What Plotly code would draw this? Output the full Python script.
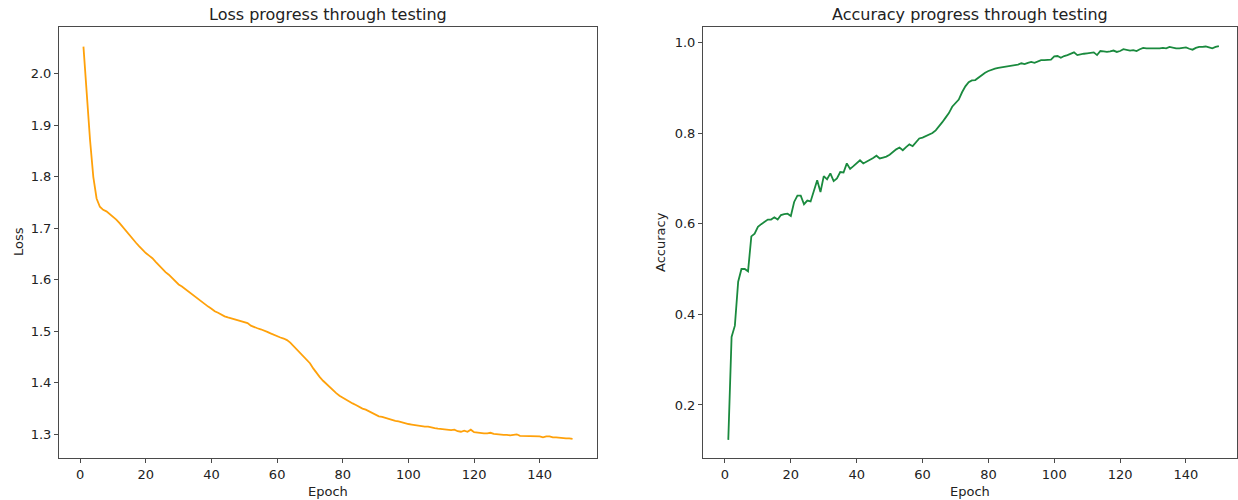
import plotly.graph_objects as go

epochs = list(range(1, 151))

loss = [
    2.053, 1.955, 1.872, 1.800, 1.758, 1.742, 1.736, 1.733, 1.728, 1.723,
    1.717, 1.710, 1.702, 1.694, 1.687, 1.679, 1.672, 1.665, 1.658, 1.652,
    1.647, 1.642, 1.635, 1.628, 1.621, 1.615, 1.610, 1.603, 1.597, 1.591,
    1.587, 1.582, 1.577, 1.572, 1.567, 1.562, 1.557, 1.552, 1.548, 1.544,
    1.539, 1.536, 1.532, 1.529, 1.527, 1.525, 1.523, 1.521, 1.520, 1.518,
    1.516, 1.511, 1.508, 1.506, 1.504, 1.502, 1.499, 1.496, 1.493, 1.490,
    1.488, 1.486, 1.483, 1.478, 1.471, 1.465, 1.458, 1.452, 1.445, 1.438,
    1.428, 1.419, 1.411, 1.404, 1.398, 1.391, 1.386, 1.380, 1.375, 1.371,
    1.367, 1.364, 1.360, 1.357, 1.353, 1.350, 1.348, 1.345, 1.341, 1.338,
    1.335, 1.334, 1.332, 1.329, 1.328, 1.326, 1.325, 1.323, 1.321, 1.320,
    1.319, 1.318, 1.316, 1.316, 1.315, 1.315, 1.313, 1.312, 1.311, 1.310,
    1.309, 1.309, 1.308, 1.309, 1.306, 1.305, 1.307, 1.305, 1.309, 1.304,
    1.303, 1.303, 1.302, 1.302, 1.303, 1.301, 1.300, 1.300, 1.299, 1.299,
    1.298, 1.299, 1.300, 1.297, 1.297, 1.297, 1.297, 1.297, 1.296, 1.296,
    1.294, 1.296, 1.296, 1.294, 1.294, 1.293, 1.293, 1.292, 1.292, 1.291,
]

accuracy = [
    0.123, 0.350, 0.375, 0.472, 0.500, 0.500, 0.495, 0.572, 0.578, 0.593,
    0.599, 0.604, 0.609, 0.609, 0.614, 0.609, 0.619, 0.621, 0.622, 0.617,
    0.648, 0.662, 0.662, 0.643, 0.651, 0.649, 0.675, 0.696, 0.670, 0.705,
    0.698, 0.711, 0.694, 0.700, 0.714, 0.713, 0.733, 0.721, 0.727, 0.733,
    0.740, 0.733, 0.737, 0.740, 0.745, 0.750, 0.744, 0.746, 0.748, 0.752,
    0.759, 0.764, 0.768, 0.762, 0.769, 0.775, 0.771, 0.780, 0.788, 0.790,
    0.793, 0.797, 0.800, 0.806, 0.814, 0.824, 0.834, 0.844, 0.858, 0.866,
    0.874, 0.890, 0.903, 0.912, 0.916, 0.917, 0.923, 0.928, 0.933, 0.937,
    0.940, 0.942, 0.944, 0.945, 0.947, 0.948, 0.949, 0.950, 0.951, 0.954,
    0.952, 0.955, 0.957, 0.955, 0.958, 0.961, 0.961, 0.961, 0.962, 0.969,
    0.970, 0.966, 0.970, 0.972, 0.975, 0.978, 0.972, 0.974, 0.975, 0.976,
    0.977, 0.978, 0.972, 0.981, 0.980, 0.979, 0.980, 0.982, 0.979, 0.981,
    0.985, 0.984, 0.982, 0.983, 0.981, 0.985, 0.988, 0.987, 0.987, 0.987,
    0.986, 0.987, 0.988, 0.987, 0.990, 0.988, 0.987, 0.987, 0.988, 0.989,
    0.986, 0.984, 0.988, 0.990, 0.990, 0.991, 0.989, 0.987, 0.990, 0.992,
]

x_ticks = [0, 20, 40, 60, 80, 100, 120, 140]
loss_ticks = [1.3, 1.4, 1.5, 1.6, 1.7, 1.8, 1.9, 2.0]
acc_ticks = [0.2, 0.4, 0.6, 0.8, 1.0]

titles = ["Loss progress through testing", "Accuracy progress through testing"]
x_label = "Epoch"
y_labels = ["Loss", "Accuracy"]

W, H = 1238, 500
FONT = "DejaVu Sans"
TXT = "#222222"
FRAME = "#4a4a4a"

fig = go.Figure()
fig.add_trace(go.Scatter(x=epochs, y=loss, mode="lines",
                         line=dict(color="#ffa10a", width=1.8),
                         xaxis="x", yaxis="y", showlegend=False))
fig.add_trace(go.Scatter(x=epochs, y=accuracy, mode="lines",
                         line=dict(color="#1a8a3e", width=1.8),
                         xaxis="x2", yaxis="y2", showlegend=False))

L_dom = [59 / W, 597 / W]
R_dom = [703 / W, 1237 / W]
Y_dom = [1 - 458 / H, 1 - 27 / H]

axis_common = dict(showline=True, mirror=True, linecolor=FRAME, linewidth=1,
                   showgrid=False, zeroline=False, ticks="outside", ticklen=4,
                   tickcolor=FRAME, tickwidth=1,
                   tickfont=dict(family=FONT, size=13, color=TXT))

fig.update_layout(
    width=W, height=H,
    margin=dict(l=0, r=0, t=0, b=0),
    paper_bgcolor="white", plot_bgcolor="white",
    xaxis=dict(domain=L_dom, range=[-6.45, 157.45], tickvals=x_ticks,
               anchor="y", **axis_common),
    yaxis=dict(domain=Y_dom, range=[1.254, 2.091], tickvals=loss_ticks,
               tickformat=".1f", anchor="x", **axis_common),
    xaxis2=dict(domain=R_dom, range=[-6.68, 155.5], tickvals=x_ticks,
                anchor="y2", **axis_common),
    yaxis2=dict(domain=Y_dom, range=[0.083, 1.034], tickvals=acc_ticks,
                tickformat=".1f", anchor="x2", **axis_common),
)

ann_font = dict(family=FONT, size=13, color=TXT)
title_font = dict(family=FONT, size=16, color=TXT)
annotations = [
    dict(text=titles[0], x=(59 + 597) / 2 / W, y=1 - 14 / H, xref="paper", yref="paper",
         showarrow=False, font=title_font, xanchor="center", yanchor="middle"),
    dict(text=titles[1], x=(703 + 1237) / 2 / W, y=1 - 14 / H, xref="paper", yref="paper",
         showarrow=False, font=title_font, xanchor="center", yanchor="middle"),
    dict(text=x_label, x=(59 + 597) / 2 / W, y=1 - 491 / H, xref="paper", yref="paper",
         showarrow=False, font=ann_font, xanchor="center", yanchor="middle"),
    dict(text=x_label, x=(703 + 1237) / 2 / W, y=1 - 491 / H, xref="paper", yref="paper",
         showarrow=False, font=ann_font, xanchor="center", yanchor="middle"),
    dict(text=y_labels[0], x=18 / W, y=1 - 242 / H, xref="paper", yref="paper",
         showarrow=False, font=ann_font, textangle=-90, xanchor="center", yanchor="middle"),
    dict(text=y_labels[1], x=660 / W, y=1 - 242 / H, xref="paper", yref="paper",
         showarrow=False, font=ann_font, textangle=-90, xanchor="center", yanchor="middle"),
]
fig.update_layout(annotations=annotations)

fig.write_html("out.html",
               config={"displayModeBar": False},
               post_script="document.body.style.margin='0';document.body.style.overflow='hidden';")
